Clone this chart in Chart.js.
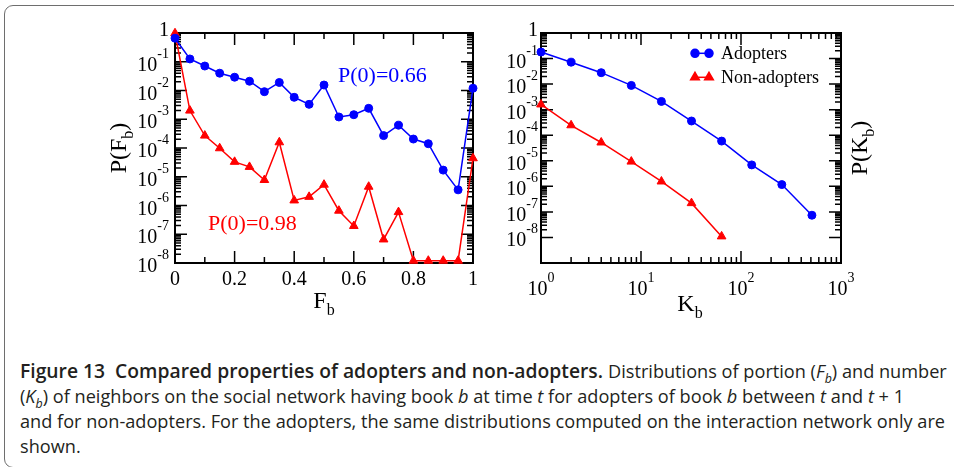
<!DOCTYPE html>
<html>
<head>
<meta charset="utf-8">
<title>Figure 13</title>
<script src="https://cdn.jsdelivr.net/npm/chart.js@4.4.1/dist/chart.umd.min.js"></script>
<style>
  html, body { margin: 0; padding: 0; background: #fff; }
  body { width: 954px; height: 467px; position: relative; overflow: hidden; }
  #frame { position: absolute; left: 4px; top: 5px; width: 1000px; height: 463px; border: 1.5px solid #6e6e6e; border-radius: 9px; box-sizing: border-box; }
  #left { position: absolute; left: 0; top: 0; }
  #right { position: absolute; left: 500px; top: 0; }
  #caption { position: absolute; left: 20px; top: 359px; font-family: "Open Sans", "DejaVu Sans", sans-serif; font-size: 19px; line-height: 25px; color: #231f20; white-space: nowrap; }
  #caption .seg { display: inline-block; transform-origin: 0 50%; vertical-align: top; }
  #caption b { font-weight: 600; }
  #caption sub { font-size: 13px; line-height: 0; }
</style>
</head>
<body>
<div id="frame"></div>
<canvas id="left" width="500" height="320"></canvas>
<canvas id="right" width="400" height="320"></canvas>
<div id="caption">
  <div><span class="seg" id="boldPart"><b>Figure 13&nbsp; Compared properties of adopters and non-adopters.</b></span> <span class="seg">Distributions of portion (<i>F</i><sub><i>b</i></sub>) and number</span></div>
  <div><span class="seg">(<i>K</i><sub><i>b</i></sub>) of neighbors on the social network having book <i>b</i> at time <i>t</i> for adopters of book <i>b</i> between <i>t</i> and <i>t</i> + 1</span></div>
  <div><span class="seg" id="fullLine">and for non-adopters. For the adopters, the same distributions computed on the interaction network only are</span></div>
  <div><span class="seg">shown.</span></div>
</div>
<script>
// portion of neighbours having the book, F_b
const fb = [0, 0.05, 0.1, 0.15, 0.2, 0.25, 0.3, 0.35, 0.4, 0.45, 0.5, 0.55, 0.6, 0.65, 0.7, 0.75, 0.8, 0.85, 0.9, 0.95, 1];
const adoptersF = [0.66, 0.125, 0.071, 0.040, 0.029, 0.021, 0.0091, 0.019, 0.0058, 0.0033, 0.0155, 0.0012, 0.00144, 0.0024, 0.00027, 0.00062, 0.000205, 0.000141, 1.7e-5, 3.5e-6, 0.012];
const nonAdoptersF = [0.98, 0.0020, 0.00027, 9.8e-5, 3.3e-5, 2.2e-5, 7.7e-6, 1.58e-4, 1.5e-6, 2.0e-6, 5.3e-6, 6.6e-7, 1.94e-7, 4.5e-6, 6.6e-8, 5.9e-7, 1.2e-8, 1.2e-8, 1.2e-8, 1.2e-8, 4.4e-5];

// number of neighbours having the book, K_b
const kbAdopters = [1, 2, 4, 8, 16, 32, 64, 128, 256, 512];
const adoptersK = [0.18, 0.072, 0.028, 0.0089, 0.0021, 0.00036, 5.9e-5, 6.9e-6, 1.17e-6, 7.4e-8];
const kbNonAdopters = [1, 2, 4, 8, 16, 32, 64];
const nonAdoptersK = [0.0016, 0.000245, 5.2e-5, 9.3e-6, 1.55e-6, 2.2e-7, 1.1e-8];

// tick labels
const fbMajor = [0, 0.2, 0.4, 0.6, 0.8, 1];
const fbMinor = [0.1, 0.3, 0.5, 0.7, 0.9];
const pfExps = [0, -1, -2, -3, -4, -5, -6, -7, -8];
const pkExps = [0, -1, -2, -3, -4, -5, -6, -7, -8];
const kbExps = [0, 1, 2, 3];

const BLUE = '#0000ff';
const RED = '#ff0000';
const SERIF = '"Liberation Serif", "Times New Roman", serif';
const MAJOR = 12, MINOR = 6;

function font(size) { return size + 'px ' + SERIF; }

// "10" with a raised exponent; "1" for 10^0 on the y axes
function drawPow(ctx, exp, x, baseY, align, plainOne) {
  ctx.textBaseline = 'alphabetic';
  ctx.textAlign = 'left';
  if (plainOne && exp === 0) {
    ctx.font = font(20);
    const w = ctx.measureText('1').width;
    ctx.fillText('1', align === 'right' ? x - w : x - w / 2, baseY);
    return;
  }
  ctx.font = font(20);
  const wb = ctx.measureText('10').width;
  ctx.font = font(14);
  const sup = String(exp);
  const ws = ctx.measureText(sup).width;
  const total = wb + ws;
  const x0 = align === 'right' ? x - total : x - total / 2;
  ctx.font = font(20);
  ctx.fillText('10', x0, baseY);
  ctx.font = font(14);
  ctx.fillText(sup, x0 + wb, baseY - 13);
}

// "P(F" + subscript "b" + ")" style titles
function drawSubText(ctx, pre, sub, post, cx, baseY, size) {
  ctx.textBaseline = 'alphabetic';
  ctx.textAlign = 'left';
  ctx.font = font(size);
  const w1 = ctx.measureText(pre).width;
  const w3 = ctx.measureText(post).width;
  ctx.font = font(Math.round(size * 0.68));
  const w2 = ctx.measureText(sub).width;
  let x = cx - (w1 + w2 + w3) / 2;
  ctx.font = font(size);
  ctx.fillText(pre, x, baseY);
  ctx.font = font(Math.round(size * 0.68));
  ctx.fillText(sub, x + w1, baseY + size * 0.3);
  ctx.font = font(size);
  ctx.fillText(post, x + w1 + w2, baseY);
}

const axesPlugin = {
  id: 'axesBox',
  beforeDatasetsDraw(chart, args, o) {
    const { ctx, chartArea: a } = chart;
    const xs = chart.scales.x, ys = chart.scales.y;
    ctx.save();
    ctx.strokeStyle = '#000';
    ctx.fillStyle = '#000';
    ctx.lineWidth = 1.5;
    const vtick = (px, len) => {
      ctx.beginPath();
      ctx.moveTo(px, a.bottom); ctx.lineTo(px, a.bottom - len);
      ctx.moveTo(px, a.top); ctx.lineTo(px, a.top + len);
      ctx.stroke();
    };
    const htick = (py, len) => {
      ctx.beginPath();
      ctx.moveTo(a.left, py); ctx.lineTo(a.left + len, py);
      ctx.moveTo(a.right, py); ctx.lineTo(a.right - len, py);
      ctx.stroke();
    };

    // y: decades with log minor ticks, mirrored on both sides
    o.yExps.forEach(e => {
      const v = Math.pow(10, e);
      const py = ys.getPixelForValue(v);
      htick(py, MAJOR);
      if (e < 0) {
        for (let m = 2; m <= 9; m++) htick(ys.getPixelForValue(m * v), MINOR);
      }
      drawPow(ctx, e, a.left - o.yGap, e === 0 ? py + 3 : py + 9, 'right', true);
    });

    // x ticks
    if (o.xLinear) {
      o.xLinear.major.forEach(v => {
        const px = xs.getPixelForValue(v);
        vtick(px, MAJOR);
        ctx.font = font(20);
        ctx.textAlign = 'center';
        ctx.textBaseline = 'alphabetic';
        ctx.fillText(String(v), px, a.bottom + 22);
      });
      o.xLinear.minor.forEach(v => vtick(xs.getPixelForValue(v), MINOR));
    } else {
      o.xExps.forEach(e => {
        const v = Math.pow(10, e);
        const px = xs.getPixelForValue(v);
        vtick(px, MAJOR);
        if (e < o.xExps[o.xExps.length - 1]) {
          for (let m = 2; m <= 9; m++) vtick(xs.getPixelForValue(m * v), MINOR);
        }
        drawPow(ctx, e, px, a.bottom + 32, 'center', false);
      });
    }

    ctx.lineWidth = 2;
    ctx.strokeRect(a.left, a.top, a.right - a.left, a.bottom - a.top);

    // axis titles
    const t = o.titles;
    drawSubText(ctx, t.x[0], 'b', '', t.x[1], t.x[2], 24);
    ctx.save();
    ctx.translate(t.y[1], t.y[2]);
    ctx.rotate(-Math.PI / 2);
    drawSubText(ctx, t.y[0], 'b', ')', 0, 0, 24);
    ctx.restore();

    // text notes
    (o.notes || []).forEach(n => {
      ctx.font = font(22);
      ctx.fillStyle = n.color;
      ctx.textAlign = 'left';
      ctx.textBaseline = 'alphabetic';
      ctx.fillText(n.text, n.x, n.y);
    });
    ctx.restore();
  },
  afterDatasetsDraw(chart, args, o) {
    if (!o.legend) return;
    const { ctx } = chart;
    const L = o.legend;
    ctx.save();
    chart.data.datasets.forEach((ds, i) => {
      const y = L.y + i * L.step;
      ctx.strokeStyle = ds.borderColor;
      ctx.fillStyle = ds.backgroundColor;
      ctx.lineWidth = 1.5;
      ctx.beginPath();
      ctx.moveTo(L.x, y); ctx.lineTo(L.x + 17, y);
      ctx.stroke();
      const opts = { pointStyle: ds.pointStyle, radius: ds.pointRadius, rotation: 0, borderWidth: 1 };
      Chart.helpers.drawPoint(ctx, opts, L.x + 2, y);
      Chart.helpers.drawPoint(ctx, opts, L.x + 16, y);
      ctx.fillStyle = '#000';
      ctx.font = font(18);
      ctx.textAlign = 'left';
      ctx.textBaseline = 'alphabetic';
      ctx.fillText(ds.label, L.x + 28, y + 5.5);
    });
    ctx.restore();
  }
};

function series(label, xs, ys, color, style, radius) {
  return {
    label,
    data: xs.map((x, i) => ({ x, y: ys[i] })),
    borderColor: color,
    backgroundColor: color,
    pointBorderColor: color,
    pointBackgroundColor: color,
    pointStyle: style,
    pointRadius: radius,
    pointBorderWidth: 1,
    borderWidth: 1.5,
    tension: 0,
    clip: false
  };
}

const common = {
  responsive: false,
  animation: false,
  devicePixelRatio: 1,
  events: []
};

new Chart(document.getElementById('left'), {
  type: 'line',
  data: {
    datasets: [
      series('Adopters', fb, adoptersF, BLUE, 'circle', 4),
      series('Non-adopters', fb, nonAdoptersF, RED, 'triangle', 5)
    ]
  },
  options: {
    ...common,
    layout: { padding: { left: 175, right: 27, top: 33, bottom: 57 } },
    scales: {
      x: { type: 'linear', min: 0, max: 1, display: false },
      y: { type: 'logarithmic', min: 1e-8, max: 1, display: false }
    },
    plugins: {
      legend: { display: false },
      tooltip: { enabled: false },
      axesBox: {
        yExps: pfExps,
        yGap: 6,
        xLinear: { major: fbMajor, minor: fbMinor },
        titles: { x: ['F', 324, 308], y: ['P(F', 126, 148] },
        notes: [
          { text: 'P(0)=0.66', x: 338, y: 82, color: BLUE },
          { text: 'P(0)=0.98', x: 208, y: 230, color: RED }
        ]
      }
    }
  },
  plugins: [axesPlugin]
});

new Chart(document.getElementById('right'), {
  type: 'line',
  data: {
    datasets: [
      series('Adopters', kbAdopters, adoptersK, BLUE, 'circle', 4),
      series('Non-adopters', kbNonAdopters, nonAdoptersK, RED, 'triangle', 5)
    ]
  },
  options: {
    ...common,
    layout: { padding: { left: 41, right: 59, top: 33, bottom: 57 } },
    scales: {
      x: { type: 'logarithmic', min: 1, max: 1000, display: false },
      y: { type: 'logarithmic', min: 1e-9, max: 1, display: false }
    },
    plugins: {
      legend: { display: false },
      tooltip: { enabled: false },
      axesBox: {
        yExps: pkExps,
        yGap: 3,
        xExps: kbExps,
        titles: { x: ['K', 190, 311], y: ['P(K', 367, 148] },
        legend: { x: 193, y: 53.3, step: 24 }
      }
    }
  },
  plugins: [axesPlugin]
});

// squeeze caption segments into a condensed look, one factor for the regular text
function squeeze(el, scale) {
  const w = el.getBoundingClientRect().width;
  el.style.width = (w * scale) + 'px';
  el.style.transform = 'scaleX(' + scale + ')';
}
window.addEventListener('load', () => {
  const bold = document.getElementById('boldPart');
  const bScale = 583 / bold.getBoundingClientRect().width;
  const rScale = 925 / document.getElementById('fullLine').getBoundingClientRect().width;
  squeeze(bold, bScale);
  document.querySelectorAll('#caption .seg').forEach(el => {
    if (el !== bold) squeeze(el, rScale);
  });
});
</script>
</body>
</html>
